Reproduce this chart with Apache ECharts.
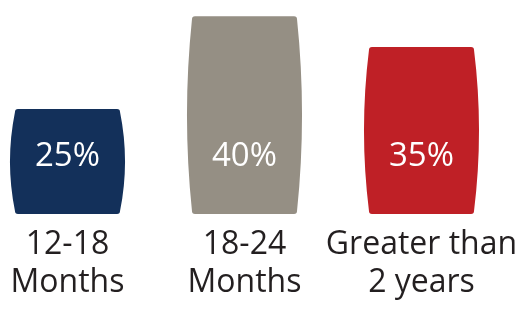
<!DOCTYPE html>
<html>
<head>
<meta charset="utf-8">
<script src="https://cdn.jsdelivr.net/npm/echarts@6/dist/echarts.min.js"></script>
<style>
html,body{margin:0;padding:0;background:#fff;overflow:hidden;}
#chart{width:545px;height:310px;margin-left:-21px;}
</style>
</head>
<body>
<div id="chart"></div>
<script>
const categories = ['12-18\nMonths', '18-24\nMonths', 'Greater than\n2 years'];
const values = [25, 40, 35];
const colors = ['#13305a', '#958f84', '#bf2026'];
const yMin = 8;
const yMax = 41;

const chart = echarts.init(document.getElementById('chart'), null, {renderer: 'canvas'});

function renderItem(params, api) {
  const idx = api.value(0);
  const val = api.value(1);
  const topPt = api.coord([idx, val]);
  const basePt = api.coord([idx, yMin]);
  const bw = api.size([1, 0])[0] * 0.65;
  const cx = topPt[0];
  const l = cx - bw / 2, r = cx + bw / 2;
  const t = topPt[1], b = basePt[1];
  const g = 5, c = 3, my = (t + b) / 2;
  const d = [
    'M', l + g + c, t,
    'L', r - g - c, t,
    'Q', r - g, t, r - g, t + c,
    'Q', r + g, my, r - g, b - c,
    'Q', r - g, b, r - g - c, b,
    'L', l + g + c, b,
    'Q', l + g, b, l + g, b - c,
    'Q', l - g, my, l + g, t + c,
    'Q', l + g, t, l + g + c, t,
    'Z'
  ].join(' ');
  return {
    type: 'group',
    children: [
      {type: 'path', shape: {pathData: d}, style: {fill: colors[idx]}},
      {type: 'text', style: {
        text: val + '%', x: cx, y: b - 57, align: 'center', verticalAlign: 'middle',
        fill: '#ffffff', fontSize: 33, fontFamily: 'Open Sans'
      }}
    ]
  };
}

chart.setOption({
  animation: false,
  grid: {left: 0, right: 14, top: 10, bottom: 96, containLabel: false},
  xAxis: {
    type: 'category',
    data: categories,
    axisLine: {show: false},
    axisTick: {show: false},
    axisLabel: {
      interval: 0, margin: 12, fontSize: 32, lineHeight: 38,
      color: '#231f20', fontFamily: 'Open Sans'
    }
  },
  yAxis: {type: 'value', min: yMin, max: yMax, show: false, splitLine: {show: false}},
  series: [{
    type: 'custom',
    renderItem: renderItem,
    data: values.map((v, i) => [i, v])
  }]
});
</script>
</body>
</html>
